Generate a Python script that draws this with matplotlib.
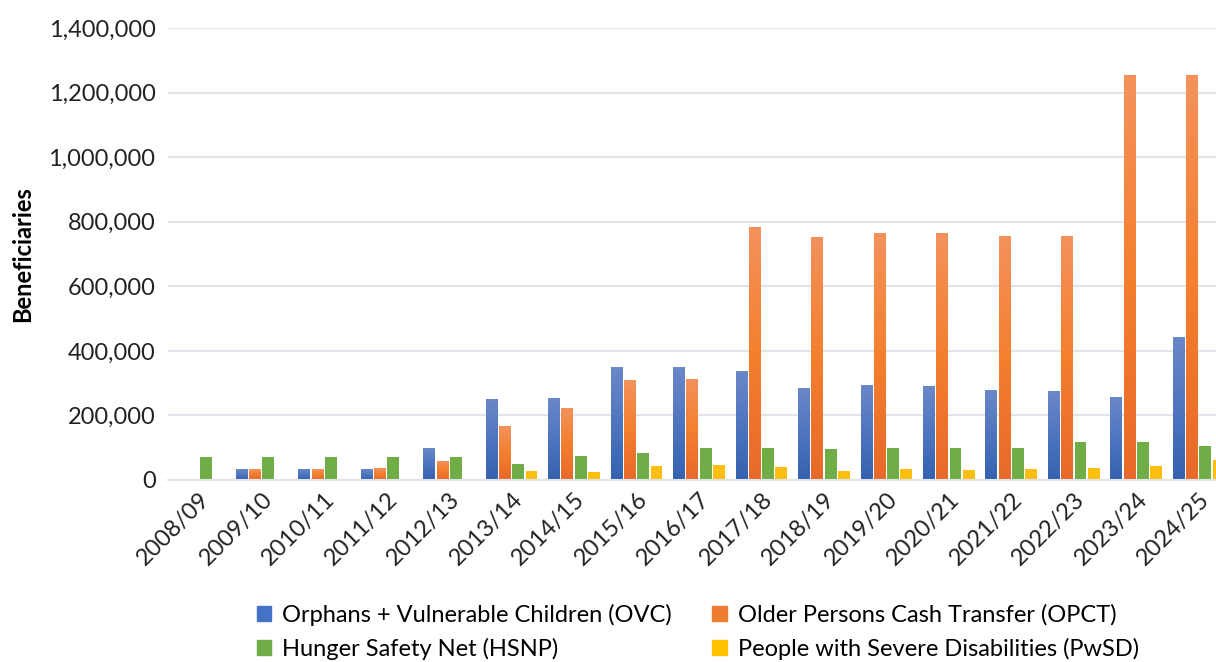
import numpy as np
import matplotlib
matplotlib.use('Agg')
import matplotlib.pyplot as plt
from matplotlib.colors import LinearSegmentedColormap
from matplotlib.patches import Patch
from matplotlib.ticker import FuncFormatter

plt.rcParams['font.family'] = ['Lato', 'DejaVu Sans']

# data
years = ['2008/09', '2009/10', '2010/11', '2011/12', '2012/13', '2013/14', '2014/15',
         '2015/16', '2016/17', '2017/18', '2018/19', '2019/20', '2020/21', '2021/22',
         '2022/23', '2023/24', '2024/25']
ovc = [0, 33000, 33000, 33000, 100000, 252000, 255000, 350000, 350000, 338000,
       285000, 295000, 291000, 280000, 276000, 258000, 443000]
opct = [0, 33000, 33000, 36000, 60000, 167000, 224000, 310000, 313000, 785000,
        754000, 766000, 766000, 757000, 757000, 1254000, 1254000]
hsnp = [70000, 70000, 70000, 70000, 70000, 49000, 75000, 84000, 100000, 100000,
        96000, 100000, 100000, 100000, 118000, 118000, 105000]
pwsd = [0, 0, 0, 0, 0, 27000, 26000, 44000, 47000, 41000,
        29000, 35000, 32000, 35000, 38000, 44000, 62000]

labels = ['Orphans + Vulnerable Children (OVC)', 'Older Persons Cash Transfer (OPCT)',
          'Hunger Safety Net (HSNP)', 'People with Severe Disabilities (PwSD)']


def gradient_bars(ax, x, h, w, stops):
    bars = ax.bar(x, h, w, color=stops[0], zorder=2)
    cmap = LinearSegmentedColormap.from_list('g', stops)
    grad = np.linspace(0, 1, 256).reshape(-1, 1)
    for b in bars:
        if b.get_height() <= 0:
            continue
        im = ax.imshow(grad, cmap=cmap, origin='lower', aspect='auto', zorder=2.1,
                       extent=[b.get_x(), b.get_x() + b.get_width(), 0, b.get_height()])
        im.set_clip_path(b)
    return bars


fig = plt.figure(figsize=(12.16, 6.62), dpi=100)
ax = fig.add_axes([168 / 1216, (662 - 480) / 662, 1062 / 1216, 452 / 662])

x = np.arange(len(years))
step = 0.213
w = 0.19
gradient_bars(ax, x - 1.5 * step, ovc, w, ['#3461b0', '#4f75bf', '#6b88c8'])
gradient_bars(ax, x - 0.5 * step, opct, w, ['#e8692a', '#f47f2e', '#f4925c'])
ax.bar(x + 0.5 * step, hsnp, w, color='#70ad47', zorder=2)
ax.bar(x + 1.5 * step, pwsd, w, color='#fcbf10', zorder=2)

ax.set_xlim(-0.5, len(years) - 0.5)
ax.set_ylim(0, 1400000)
ax.set_yticks(np.arange(0, 1400001, 200000))
ax.yaxis.set_major_formatter(FuncFormatter(lambda v, p: f'{int(v):,}'))
ax.set_xticks(x)
ax.set_xticklabels(years, rotation=45, ha='right', rotation_mode='anchor')
ax.tick_params(length=0, labelsize=17, colors='#222222')
ax.tick_params(axis='y', pad=9)
ax.tick_params(axis='x', pad=6)
ax.grid(axis='y', color='#e1e4ea', lw=1.5, zorder=0)
for s in ['top', 'right', 'left']:
    ax.spines[s].set_visible(False)
ax.spines['bottom'].set_color('#e1e4ea')
ax.spines['bottom'].set_linewidth(1.5)
ax.set_ylabel('Beneficiaries', fontsize=17, fontweight='bold', labelpad=10)

handles = [Patch(color='#4472c4'), Patch(color='#70ad47'),
           Patch(color='#ed7d31'), Patch(color='#ffc000')]
hl = [labels[0], labels[2], labels[1], labels[3]]
fig.legend(handles, hl, ncol=2, loc='center', bbox_to_anchor=(0.574, 0.046),
           frameon=False, fontsize=17, handlelength=0.6, handleheight=0.6,
           handletextpad=0.5, columnspacing=1.7, labelspacing=0.5)

fig.savefig('out.png', dpi=100)
